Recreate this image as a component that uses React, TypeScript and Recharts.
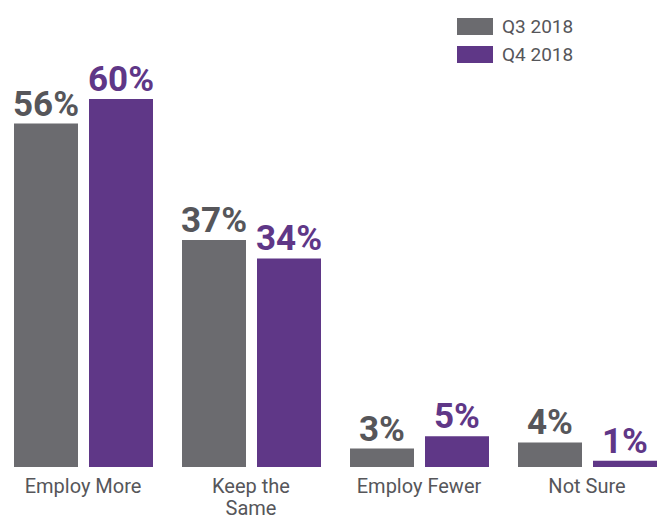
import { BarChart, Bar, XAxis, YAxis, LabelList } from "recharts";

// survey answers, in percent
const categories = ["Employ More", "Keep the Same", "Employ Fewer", "Not Sure"];
const q3Values = [56, 37, 3, 4];
const q4Values = [60, 34, 5, 1];
const seriesNames = ["Q3 2018", "Q4 2018"];

const GRAY = "#6b6b6f";
const PURPLE = "#5f3787";
const TEXT = "#56565a";
const FONT = "Roboto, 'DejaVu Sans', sans-serif";

const data = categories.map((name, i) => ({ name, q3: q3Values[i], q4: q4Values[i] }));

const CategoryTick = (props: any) => {
  const { x, y, payload } = props;
  const words = String(payload.value);
  // "Keep the Same" breaks over two lines in the original
  const lines = words === "Keep the Same" ? ["Keep the", "Same"] : [words];
  return (
    <text x={x} y={y} textAnchor="middle" fill={TEXT} fontFamily={FONT} fontSize={20}>
      {lines.map((l, i) => (
        <tspan key={i} x={x} dy={i === 0 ? 18 : 22}>
          {l}
        </tspan>
      ))}
    </text>
  );
};

export default function App() {
  const colors = [GRAY, PURPLE];
  return (
    <div style={{ position: "fixed", left: 0, top: 0, width: 663, height: 517, overflow: "hidden", background: "#fff" }}>
      <div style={{ position: "absolute", left: -1, top: 0 }}>
        <BarChart
          width={672}
          height={517}
          data={data}
          margin={{ top: 99, right: 0, bottom: 0, left: 0 }}
          barCategoryGap={15}
          barGap={11}
        >
          <XAxis dataKey="name" axisLine={false} tickLine={false} tick={<CategoryTick />} height={50} interval={0} />
          <YAxis hide domain={[0, 60]} />
          <Bar dataKey="q3" name={seriesNames[0]} fill={GRAY} isAnimationActive={false}>
            <LabelList
              dataKey="q3"
              position="top"
              offset={8}
              formatter={(v: any) => `${v}%`}
              fill={TEXT}
              fontFamily={FONT}
              fontSize={35}
              fontWeight="bold"
            />
          </Bar>
          <Bar dataKey="q4" name={seriesNames[1]} fill={PURPLE} isAnimationActive={false}>
            <LabelList
              dataKey="q4"
              position="top"
              offset={8}
              formatter={(v: any) => `${v}%`}
              fill={PURPLE}
              fontFamily={FONT}
              fontSize={35}
              fontWeight="bold"
            />
          </Bar>
        </BarChart>
      </div>
      <div style={{ position: "absolute", left: 457, top: 12, fontFamily: FONT }}>
        {seriesNames.map((s, i) => (
          <div key={s} style={{ display: "flex", alignItems: "center", height: 28 }}>
            <span style={{ width: 36, height: 17, background: colors[i], display: "inline-block", marginRight: 9 }} />
            <span style={{ color: TEXT, fontSize: 19 }}>{s}</span>
          </div>
        ))}
      </div>
    </div>
  );
}
